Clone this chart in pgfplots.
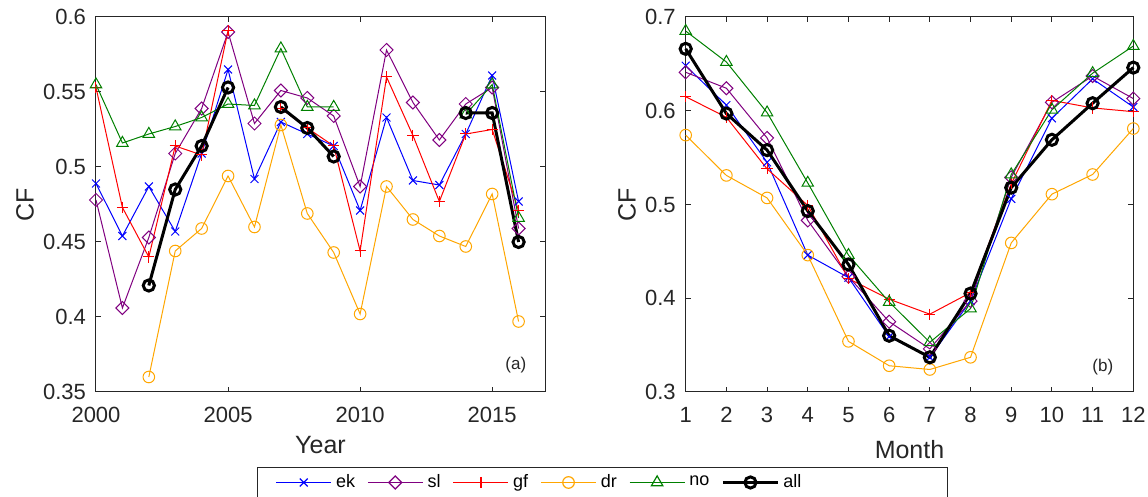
\documentclass[border=0pt]{standalone}
\usepackage{fontspec}
\setmainfont{Liberation Sans}
\usepackage{pgfplots}
\pgfplotsset{compat=1.18}
\definecolor{axgray}{rgb}{0.15,0.15,0.15}
\definecolor{cek}{rgb}{0,0,1}
\definecolor{csl}{rgb}{0.5,0,0.5}
\definecolor{cgf}{rgb}{1,0,0}
\definecolor{cdr}{rgb}{1,0.65,0}
\definecolor{cno}{rgb}{0,0.5,0}
\pgfplotsset{
  mystyle/.style={
    scale only axis, width=224.5pt, height=187.5pt,
    axis line style={draw=axgray, line width=0.5pt},
    tick style={draw=axgray, line width=0.5pt},
    major tick length=2.5pt,
    tick align=inside,
    xtick pos=both, ytick pos=both,
    /pgf/number format/assume math mode=true,
    /pgf/number format/set thousands separator={},
    tick label style={font=\fontsize{11}{13}\selectfont, text=axgray},
    xticklabel shift=4pt,
    yticklabel shift=1.5pt,
    label style={font=\fontsize{12.5}{14}\selectfont, text=axgray},
    unbounded coords=jump,
    clip=false,
  },
  lg/.style={legend image code/.code={%
    \draw[draw=#1, solid, line width=0.8pt] (0pt,0pt) -- (27.5pt,0pt);
    \draw[draw=#1, solid, only marks, line width=0.6pt] plot coordinates {(13.75pt,0pt)};}},
  lgall/.style={legend image code/.code={%
    \draw[draw=black, solid] (0pt,0pt) -- (27.5pt,0pt);
    \draw[draw=black, solid, only marks] plot coordinates {(13.75pt,0pt)};}},
  ekst/.style={draw=cek, color=cek, line width=0.5pt, mark=x, mark size=2.8pt, mark options={solid, draw=cek}, lg=cek},
  slst/.style={draw=csl, color=csl, line width=0.5pt, mark=square, mark size=2.3pt, mark options={solid, rotate=45, draw=csl}, lg=csl},
  gfst/.style={draw=cgf, color=cgf, line width=0.5pt, mark=+, mark size=2.8pt, mark options={solid, draw=cgf}, lg=cgf},
  drst/.style={draw=cdr, color=cdr, line width=0.5pt, mark=o, mark size=2.9pt, mark options={solid, draw=cdr}, lg=cdr},
  nost/.style={draw=cno, color=cno, line width=0.5pt, mark=triangle, mark size=3.3pt, mark options={solid, draw=cno}, lg=cno},
  allst/.style={draw=black, color=black, line width=1.5pt, mark=o, mark size=2.8pt, mark options={solid, draw=black}, lgall},
}
\begin{document}
\begin{tikzpicture}
\begin{axis}[mystyle,
  at={(48pt,52.5pt)}, anchor=south west,
  xmin=2000, xmax=2017, ymin=0.35, ymax=0.6,
  xtick={2000,2005,2010,2015},
  ytick={0.35,0.4,0.45,0.5,0.55,0.6},
  yticklabels={0.35,0.4,0.45,0.5,0.55,0.6},
  xlabel={Year}, ylabel={CF},
  ylabel style={at={(axis description cs:-0.158,0.5)}, anchor=center},
  legend columns=6,
  legend style={draw=none, fill=none, inner sep=0pt,
    at={(axis description cs:0.3987,-0.2413)}, anchor=west,
    font=\fontsize{9}{11}\selectfont,
    /tikz/every even column/.append style={column sep=4pt}},
]
\addplot[ekst] coordinates {(2000,0.489) (2001,0.454) (2002,0.487) (2003,0.457) (2004,0.509) (2005,0.565) (2006,0.492) (2007,0.530) (2008,0.522) (2009,0.514) (2010,0.471) (2011,0.533) (2012,0.491) (2013,0.488) (2014,0.522) (2015,0.561) (2016,0.477)};
\addlegendentry{ek}
\addplot[slst] coordinates {(2000,0.478) (2001,0.406) (2002,0.453) (2003,0.509) (2004,0.539) (2005,0.590) (2006,0.529) (2007,0.551) (2008,0.546) (2009,0.534) (2010,0.487) (2011,0.578) (2012,0.543) (2013,0.518) (2014,0.542) (2015,0.553) (2016,0.459)};
\addlegendentry{sl}
\addplot[gfst] coordinates {(2000,0.553) (2001,0.473) (2002,0.440) (2003,0.514) (2004,0.508) (2005,0.591) (2006,nan) (2007,0.539) (2008,0.526) (2009,0.514) (2010,0.444) (2011,0.560) (2012,0.521) (2013,0.477) (2014,0.522) (2015,0.525) (2016,0.471)};
\addlegendentry{gf}
\addplot[drst] coordinates {(2002,0.360) (2003,0.444) (2004,0.459) (2005,0.494) (2006,0.460) (2007,0.528) (2008,0.469) (2009,0.443) (2010,0.402) (2011,0.487) (2012,0.465) (2013,0.454) (2014,0.447) (2015,0.482) (2016,0.397)};
\addlegendentry{dr}
\addplot[nost] coordinates {(2000,0.555) (2001,0.516) (2002,0.522) (2003,0.527) (2004,0.533) (2005,0.542) (2006,0.541) (2007,0.579) (2008,0.540) (2009,0.540) (2010,nan) (2014,0.535) (2015,0.555) (2016,0.466)};
\addlegendentry{no}
\addplot[allst] coordinates {(2002,0.421) (2003,0.485) (2004,0.514) (2005,0.553) (2006,nan) (2007,0.540) (2008,0.526) (2009,0.507) (2010,nan) (2014,0.536) (2015,0.536) (2016,0.450)};
\addlegendentry{all}
\node[font=\fontsize{8.5}{10}\selectfont, text=axgray] at (axis description cs:0.935,0.072) {(a)};
\end{axis}
\begin{axis}[mystyle,
  at={(342.85pt,52.5pt)}, anchor=south west, width=223.8pt,
  xmin=1, xmax=12, ymin=0.3, ymax=0.7,
  xtick={1,2,...,12},
  ytick={0.3,0.4,0.5,0.6,0.7},
  yticklabels={0.3,0.4,0.5,0.6,0.7},
  xlabel={Month}, ylabel={CF},
  ylabel style={at={(axis description cs:-0.131,0.5)}, anchor=center},
  xlabel style={yshift=-2pt},
]
\addplot[ekst] coordinates {(1,0.648) (2,0.606) (3,0.545) (4,0.446) (5,0.422) (6,0.359) (7,0.337) (8,0.397) (9,0.506) (10,0.592) (11,0.634) (12,0.604)};
\addplot[slst] coordinates {(1,0.641) (2,0.624) (3,0.571) (4,0.483) (5,0.423) (6,0.375) (7,0.346) (8,0.397) (9,0.529) (10,0.609) (11,0.637) (12,0.613)};
\addplot[gfst] coordinates {(1,0.615) (2,0.593) (3,0.538) (4,0.499) (5,0.421) (6,0.399) (7,0.383) (8,0.406) (9,0.522) (10,0.611) (11,0.603) (12,0.599)};
\addplot[drst] coordinates {(1,0.574) (2,0.531) (3,0.507) (4,0.446) (5,0.354) (6,0.328) (7,0.324) (8,0.337) (9,0.459) (10,0.511) (11,0.532) (12,0.581)};
\addplot[nost] coordinates {(1,0.685) (2,0.652) (3,0.598) (4,0.523) (5,0.446) (6,0.396) (7,0.353) (8,0.389) (9,0.532) (10,0.601) (11,0.640) (12,0.669)};
\addplot[allst] coordinates {(1,0.666) (2,0.597) (3,0.558) (4,0.493) (5,0.436) (6,0.360) (7,0.337) (8,0.405) (9,0.518) (10,0.569) (11,0.608) (12,0.646)};
\node[font=\fontsize{8.5}{10}\selectfont, text=axgray] at (axis description cs:0.932,0.067) {(b)};
\end{axis}
\draw[axgray, line width=0.5pt] (128.5pt,14.5pt) rectangle (473.5pt,-4pt);
\pgfresetboundingbox
\useasboundingbox (0,0) rectangle (574pt,248.5pt);
\end{tikzpicture}
\end{document}
